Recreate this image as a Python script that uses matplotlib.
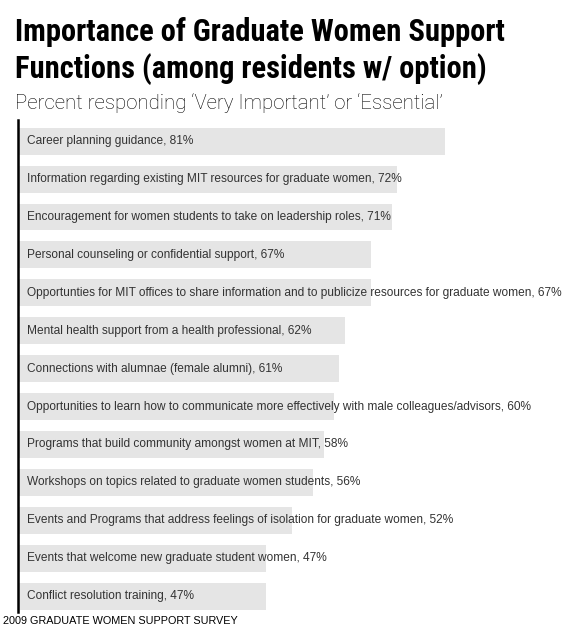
import matplotlib.pyplot as plt

# 데이터
labels = [
    'Career planning guidance',
    'Information regarding existing MIT resources for graduate women',
    'Encouragement for women students to take on leadership roles',
    'Personal counseling or confidential support',
    'Opportunties for MIT offices to share information and to publicize resources for graduate women',
    'Mental health support from a health professional',
    'Connections with alumnae (female alumni)',
    'Opportunities to learn how to communicate more effectively with male colleagues/advisors',
    'Programs that build community amongst women at MIT',
    'Workshops on topics related to graduate women students',
    'Events and Programs that address feelings of isolation for graduate women',
    'Events that welcome new graduate student women',
    'Conflict resolution training',
]
percents = [81, 72, 71, 67, 67, 62, 61, 60, 58, 56, 52, 47, 47]

W, H = 580, 630
fig = plt.figure(figsize=(W / 100, H / 100), dpi=100)

# 축 위치 (픽셀 기준)
left_px, right_px, top_px, bot_px = 18, 545, 120, 612
ax = fig.add_axes([left_px / W, 1 - bot_px / H, (right_px - left_px) / W, (bot_px - top_px) / H])

y = list(range(len(percents)))
ax.barh(y, percents, height=0.71, color='#e5e5e5', left=0)
for yi, lab, p in zip(y, labels, percents):
    ax.text(1.7, yi, f'{lab}, {p}%', va='center', ha='left', fontsize=8.6,
            color='#333333', family=['Liberation Sans', 'DejaVu Sans'])

ax.set_xlim(0, 100)
ax.set_ylim(12.42, -0.56)
for s in ['top', 'right', 'bottom']:
    ax.spines[s].set_visible(False)
ax.spines['left'].set_linewidth(1.8)
ax.spines['left'].set_color('black')
ax.set_xticks([])
ax.set_yticks([])
ax.patch.set_alpha(0)

# 제목
title_font = ['Roboto Condensed', 'Liberation Sans', 'DejaVu Sans']
fig.text(15 / W, 1 - 32 / H, 'Importance of Graduate Women Support', fontsize=22,
         fontweight='bold', family=title_font, va='center', ha='left')
fig.text(15 / W, 1 - 69 / H, 'Functions (among residents w/ option)', fontsize=22,
         fontweight='bold', family=title_font, va='center', ha='left')
fig.text(15 / W, 1 - 103 / H, 'Percent responding \u2018Very Important\u2019 or \u2018Essential\u2019',
         fontsize=14.7, fontweight='light', family=['Roboto', 'Liberation Sans', 'DejaVu Sans'],
         va='center', ha='left', color='black')
fig.text(3 / W, 1 - 621 / H, '2009 GRADUATE WOMEN SUPPORT SURVEY', fontsize=7.8,
         family=['Liberation Sans', 'DejaVu Sans'], va='center', ha='left')

fig.savefig('out.png', dpi=100)
